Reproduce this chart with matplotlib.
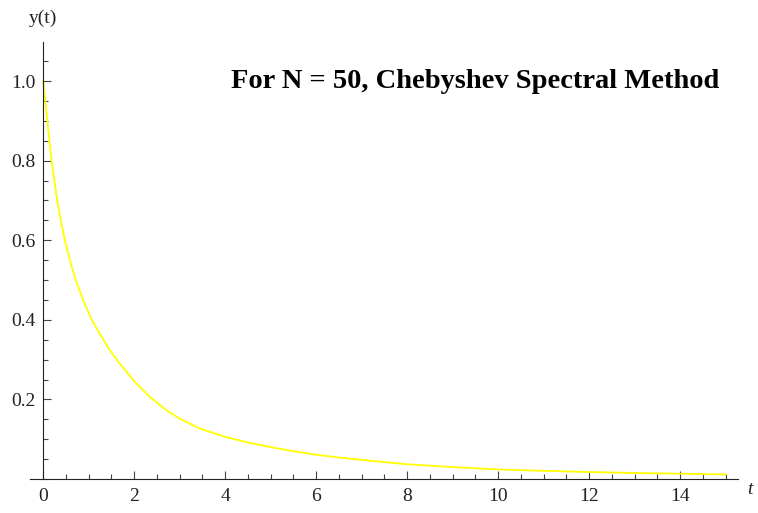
import matplotlib
matplotlib.use("Agg")
from matplotlib import pyplot as plt
from matplotlib.ticker import MultipleLocator, FixedLocator

# numerical solution y(t), N = 50 collocation points
t_vals = [0.0, 0.05, 0.095, 0.14, 0.19, 0.25, 0.31, 0.39, 0.48, 0.59, 0.72,
          0.88, 1.07, 1.24, 1.46, 1.68, 2.01, 2.34, 2.71, 3.0, 3.44, 4.0,
          4.53, 5.0, 5.5, 6.0, 6.5, 7.0, 8.0, 9.0, 10.0, 11.0, 12.0, 13.0,
          14.0, 15.0]
y_vals = [1.0, 0.95, 0.90, 0.85, 0.80, 0.75, 0.70, 0.65, 0.60, 0.55, 0.50,
          0.45, 0.40, 0.366, 0.325, 0.291, 0.245, 0.207, 0.173, 0.152, 0.127,
          0.106, 0.091, 0.080, 0.070, 0.061, 0.054, 0.048, 0.037, 0.030,
          0.024, 0.0205, 0.0175, 0.0152, 0.0132, 0.0115]

x_major = [0, 2, 4, 6, 8, 10, 12, 14]
y_major = [0.2, 0.4, 0.6, 0.8, 1.0]
title = "For N = 50, Chebyshev Spectral Method"

serif = ["Liberation Serif", "DejaVu Serif"]
W, H = 758, 513

fig = plt.figure(figsize=(W / 100, H / 100), dpi=100)
ax = fig.add_axes([30 / W, 1 - 479 / H, (738 - 30) / W, (479 - 42) / H])

ax.plot(t_vals, y_vals, color="#ffff00", lw=1.3, solid_joinstyle="round")

ax.set_xlim(-0.286, 15.27)
ax.set_ylim(0, 1.098)

for side in ("top", "right"):
    ax.spines[side].set_visible(False)
ax.spines["left"].set_position(("data", 0))
ax.spines["bottom"].set_position(("data", 0))
for side in ("left", "bottom"):
    ax.spines[side].set_linewidth(0.8)
    ax.spines[side].set_color("#222222")

ax.xaxis.set_major_locator(FixedLocator(x_major))
ax.xaxis.set_minor_locator(MultipleLocator(0.5))
ax.yaxis.set_major_locator(FixedLocator(y_major))
ax.yaxis.set_minor_locator(MultipleLocator(0.05))
ax.set_xticklabels([str(v) for v in x_major])
ax.set_yticklabels([f"{v:.1f}" for v in y_major])

ax.tick_params(which="both", direction="in", color="#444444", width=0.8)
ax.tick_params(which="major", length=5.8)
ax.tick_params(which="minor", length=3.6)
ax.tick_params(axis="x", pad=6.5)
ax.tick_params(axis="y", pad=5.5)
for lab in ax.get_xticklabels() + ax.get_yticklabels():
    lab.set_family(serif)
    lab.set_fontsize(14)
    lab.set_color("#222222")

fig.text(43 / W, 1 - 18 / H, "y(t)", family=serif, fontsize=14,
         ha="center", va="center", color="#222222")
fig.text(747 / W, 1 - 489 / H, "t", family=serif, style="italic",
         fontsize=14, ha="left", va="center", color="#222222")
fig.text(475 / W, 1 - 81 / H, title, family=serif, fontweight="bold",
         fontsize=20.5, ha="center", va="center")

fig.savefig("out.png", dpi=100, facecolor="white")
